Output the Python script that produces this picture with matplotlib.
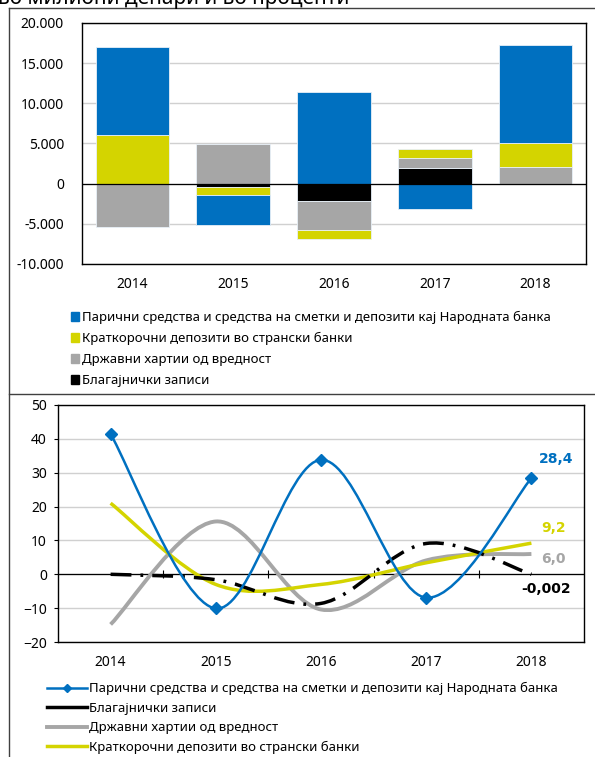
import numpy as np
import matplotlib
matplotlib.use("Agg")
import matplotlib.pyplot as plt
from matplotlib.path import Path
from matplotlib.patches import PathPatch, Patch
from matplotlib.lines import Line2D

plt.rcParams['font.family'] = ['Noto Sans', 'DejaVu Sans']

W, H = 595, 757

years = ['2014', '2015', '2016', '2017', '2018']

# annual change, millions of denars
cash_nbrm = [11000, -3800, 11400, -3100, 12100]
foreign_dep = [6000, -950, -1100, 1100, 3000]
gov_sec = [-5400, 4900, -3650, 1200, 2100]
cb_bills = [0, -420, -2100, 2000, 0]

# growth rates, %
g_cash = [41.4, -10.1, 33.8, -6.9, 28.4]
g_bills = [0.0, -1.6, -8.6, 9.1, -0.002]
g_gov = [-14.8, 15.6, -10.4, 4.1, 6.0]
g_foreign = [21.0, -3.0, -3.0, 3.4, 9.2]

lbl_cash = 'Парични средства и средства на сметки и депозити кај Народната банка'
lbl_foreign = 'Краткорочни депозити во странски банки'
lbl_gov = 'Државни хартии од вредност'
lbl_bills = 'Благајнички записи'

c_blue = '#0070C0'
c_yellow = '#D4D400'
c_gray = '#A6A6A6'
c_black = '#000000'
c_grid = '#D0D0D0'


def px_axes(fig, x0, y0, x1, y1):
    return fig.add_axes([x0 / W, 1 - y1 / H, (x1 - x0) / W, (y1 - y0) / H])


def smooth_path(xs, ys):
    # excel-like smoothed line: cubic bezier through all points
    P = np.column_stack([xs, ys]).astype(float)
    n = len(P)
    verts = [P[0]]
    codes = [Path.MOVETO]
    for i in range(n - 1):
        p0 = P[i - 1] if i > 0 else P[i]
        p3 = P[i + 2] if i + 2 < n else P[i + 1]
        c1 = P[i] + (P[i + 1] - p0) / 6.0
        c2 = P[i + 1] - (p3 - P[i]) / 6.0
        verts += [c1, c2, P[i + 1]]
        codes += [Path.CURVE4] * 3
    return Path(verts, codes)


fig = plt.figure(figsize=(W / 100, H / 100), dpi=100)

# outer frame lines
for xs, ys in [([9, 9], [8, H]), ([9, W], [8, 8]), ([9, W], [394, 394])]:
    fig.add_artist(Line2D([x / W for x in xs], [1 - y / H for y in ys],
                          transform=fig.transFigure, color='#404040', lw=1))

# header line, cut at the top edge as in the source page
fig.text(-2 / W, 1 - 4 / H, 'во милиони денари и во проценти', fontsize=15,
         va='baseline', ha='left')

# ---- top: stacked bars ----
ax1 = px_axes(fig, 82, 23, 586, 264)
x = np.arange(len(years))
pos = np.zeros(len(years))
neg = np.zeros(len(years))
for vals, col in [(cb_bills, c_black), (gov_sec, c_gray),
                  (foreign_dep, c_yellow), (cash_nbrm, c_blue)]:
    v = np.array(vals, dtype=float)
    bottom = np.where(v >= 0, pos, neg)
    ax1.bar(x, v, 0.73, bottom=bottom, color=col, edgecolor='#E8F0F8',
            linewidth=0.6, zorder=3)
    pos = pos + np.where(v >= 0, v, 0)
    neg = neg + np.where(v < 0, v, 0)

ax1.set_xlim(-0.5, len(years) - 0.5)
ax1.set_ylim(-10000, 20000)
ax1.set_yticks(np.arange(-10000, 20001, 5000))
ax1.set_yticklabels([f'{v:,}'.replace(',', '.') for v in range(-10000, 20001, 5000)])
ax1.yaxis.grid(True, color=c_grid, lw=1, zorder=0)
ax1.axhline(0, color='black', lw=0.9, zorder=4)
ax1.set_xticks(x)
ax1.set_xticklabels(years)
ax1.tick_params(axis='both', length=0, labelsize=10)
ax1.tick_params(axis='y', pad=13)
ax1.tick_params(axis='x', pad=9)
for s in ax1.spines.values():
    s.set_color('black')
    s.set_linewidth(1)

h1 = [Patch(color=c) for c in [c_blue, c_yellow, c_gray, c_black]]
fig.legend(h1, [lbl_cash, lbl_foreign, lbl_gov, lbl_bills], loc='upper left',
           bbox_to_anchor=(71 / W, 1 - 311 / H), frameon=False, fontsize=9.5,
           handlelength=0.6, handleheight=0.6, handletextpad=0.25,
           labelspacing=0.6, borderpad=0, borderaxespad=0)

# ---- bottom: growth rates ----
ax2 = px_axes(fig, 58, 405, 584, 642)
for vals, col, lw, ls in [(g_gov, c_gray, 2.8, '-'), (g_foreign, c_yellow, 2.5, '-'),
                          (g_bills, c_black, 2.5, (0, (6, 2.6, 0.8, 2.6))),
                          (g_cash, c_blue, 1.8, '-')]:
    ax2.add_patch(PathPatch(smooth_path(x, vals), facecolor='none', edgecolor=col,
                            lw=lw, linestyle=ls, capstyle='butt', zorder=3))
ax2.plot(x, g_cash, linestyle='none', marker='D', ms=6, color=c_blue, zorder=4)

ax2.set_xlim(-0.5, len(years) - 0.5)
ax2.set_ylim(-20, 50)
ax2.set_yticks(np.arange(-20, 51, 10))
ax2.yaxis.grid(True, color=c_grid, lw=1, zorder=0)
ax2.axhline(0, color='black', lw=0.9, zorder=2)
ax2.set_xticks(x)
ax2.set_xticklabels(years)
ax2.tick_params(axis='x', length=0, labelsize=10, pad=9)
ax2.tick_params(axis='y', length=3, labelsize=10, pad=5)
# small marks on the zero line between categories
ax2.plot(x[1:] - 0.5, np.zeros(len(x) - 1), linestyle='none', marker='|',
         ms=6, color='black', mew=0.8, zorder=2)
for s in ax2.spines.values():
    s.set_color('black')
    s.set_linewidth(1)

last = len(years) - 1
for vals, col, txt, off in [(g_cash, c_blue, '28,4', (25, 19)),
                            (g_foreign, c_yellow, '9,2', (22, 15)),
                            (g_gov, c_gray, '6,0', (22, -5)),
                            (g_bills, c_black, '-0,002', (15, -15))]:
    ax2.annotate(txt, (x[last], vals[last]), xytext=off, textcoords='offset pixels',
                 ha='center', va='center', color=col, fontsize=10,
                 fontweight='bold', family='DejaVu Sans')

h2 = [Line2D([], [], color=c_blue, lw=1.8, marker='D', ms=4),
      Line2D([], [], color=c_black, lw=2.5),
      Line2D([], [], color=c_gray, lw=2.8),
      Line2D([], [], color=c_yellow, lw=2.5)]
fig.legend(h2, [lbl_cash, lbl_bills, lbl_gov, lbl_foreign], loc='upper left',
           bbox_to_anchor=(47 / W, 1 - 682 / H), frameon=False, fontsize=9.5,
           handlelength=3.0, handletextpad=0.2, labelspacing=0.5,
           borderpad=0, borderaxespad=0)

fig.savefig('out.png', dpi=100)
